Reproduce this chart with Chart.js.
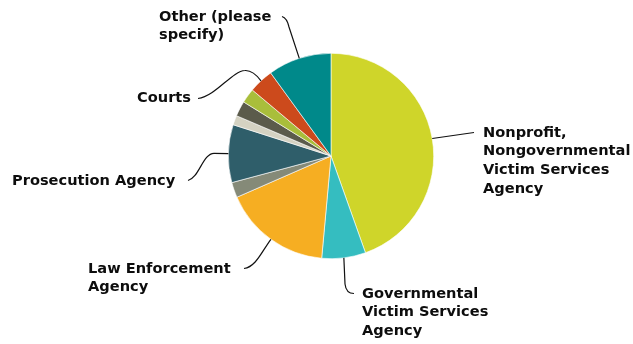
<!DOCTYPE html>
<html>
<head>
<meta charset="utf-8">
<script src="https://cdn.jsdelivr.net/npm/chart.js@4.4.1/dist/chart.umd.min.js"></script>
<style>
  html, body { margin: 0; padding: 0; background: #ffffff; }
  #wrap { width: 633px; height: 344px; position: relative; }
</style>
</head>
<body>
<div id="wrap"><canvas id="chart" width="633" height="344"></canvas></div>
<script>
// Agencies, in drawing order (clockwise from 12 o'clock)
const categories = [
  'Nonprofit, Nongovernmental Victim Services Agency',
  'Governmental Victim Services Agency',
  'Law Enforcement Agency',
  '',
  'Prosecution Agency',
  '',
  '',
  '',
  'Courts',
  'Other (please specify)'
];

// Share of responses (%)
const shares = [44.6, 6.9, 17.0, 2.4, 9.1, 1.5, 2.4, 2.3, 3.9, 10.0];

const sliceColors = [
  '#cfd52a', '#35bdc0', '#f6ae22', '#858a78', '#2f5e6a',
  '#d4d2c2', '#5b5b4b', '#a9be3b', '#cc4a1c', '#00898a'
];

// Wrapped label text per slice (empty = no label)
const labelLines = [
  ['Nonprofit,', 'Nongovernmental', 'Victim Services', 'Agency'],
  ['Governmental', 'Victim Services', 'Agency'],
  ['Law Enforcement', 'Agency'],
  [],
  ['Prosecution Agency'],
  [],
  [],
  [],
  ['Courts'],
  ['Other (please', 'specify)']
];

// Label placement: text origin (left, first line middle) and leader path after the slice edge
const labelLayout = {
  0: { x: 483, y: 133, path: c => { c.lineTo(474, 132.5); } },
  1: { x: 362, y: 294, path: c => { c.lineTo(345, 284); c.quadraticCurveTo(346, 293.5, 354, 293.5); } },
  2: { x: 88,  y: 269, path: c => { c.bezierCurveTo(262, 251, 256, 267, 244, 268.5); } },
  4: { x: 12,  y: 181, path: c => { c.lineTo(214, 153.3); c.bezierCurveTo(203, 153.3, 199, 178, 188, 180.5); } },
  8: { x: 137, y: 98,  path: c => { c.quadraticCurveTo(253, 70, 245, 70.5); c.bezierCurveTo(232, 71, 216, 96, 198, 98.5); } },
  9: { x: 159, y: 17,  path: c => { c.lineTo(289, 27); c.quadraticCurveTo(287, 18, 282, 16.5); } }
};

const LINE_HEIGHT = 18.6;

const calloutPlugin = {
  id: 'callouts',
  afterDatasetsDraw(chart) {
    const ctx = chart.ctx;
    const arcs = chart.getDatasetMeta(0).data;
    ctx.save();
    Object.keys(labelLayout).forEach(key => {
      const i = Number(key);
      const lay = labelLayout[i];
      const p = arcs[i].getProps(['x', 'y', 'startAngle', 'endAngle', 'outerRadius'], true);
      const mid = (p.startAngle + p.endAngle) / 2;
      const ex = p.x + Math.cos(mid) * p.outerRadius;
      const ey = p.y + Math.sin(mid) * p.outerRadius;
      ctx.beginPath();
      ctx.moveTo(ex, ey);
      lay.path(ctx);
      ctx.strokeStyle = '#111111';
      ctx.lineWidth = 1.2;
      ctx.stroke();

      ctx.fillStyle = '#0d0d0d';
      ctx.font = 'bold 14.6px "DejaVu Sans"';
      ctx.textAlign = 'left';
      ctx.textBaseline = 'middle';
      labelLines[i].forEach((line, k) => {
        ctx.fillText(line, lay.x, lay.y + k * LINE_HEIGHT);
      });
    });
    ctx.restore();
  }
};

new Chart(document.getElementById('chart'), {
  type: 'pie',
  data: {
    labels: categories,
    datasets: [{
      data: shares,
      backgroundColor: sliceColors,
      borderColor: '#ffffff',
      borderWidth: 0.6
    }]
  },
  options: {
    responsive: false,
    animation: false,
    layout: { padding: { left: 29, right: 0, top: 53, bottom: 85 } },
    plugins: {
      legend: { display: false },
      tooltip: { enabled: false }
    }
  },
  plugins: [calloutPlugin]
});
</script>
</body>
</html>
